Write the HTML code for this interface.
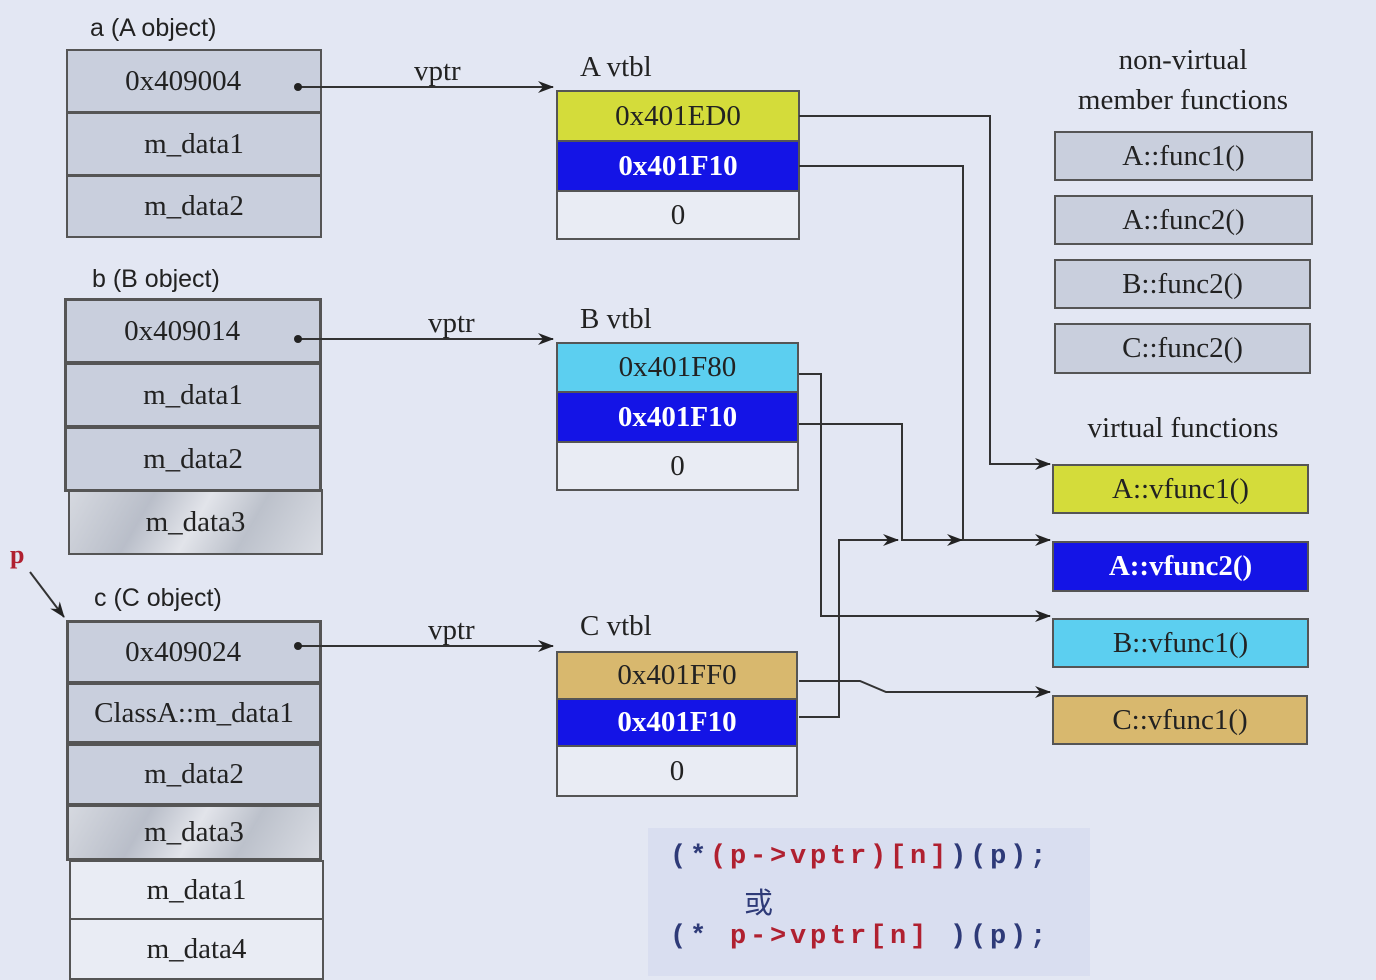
<!DOCTYPE html>
<html><head><meta charset="utf-8"><style>
body{margin:0;width:1376px;height:976px;background:#e3e7f3;position:relative;overflow:hidden;font-family:"Liberation Serif",serif;}
.a{position:absolute;}
.l{position:absolute;font-family:"Liberation Sans",sans-serif;font-size:25px;color:#222;}
.t{position:absolute;font-size:29px;color:#222;}
.r{position:absolute;box-sizing:border-box;border:2px solid #555;display:flex;align-items:center;justify-content:center;font-size:29px;color:#222;background:#c9cfdd;}
.w{background:#e9ecf4}
.y{background:#d4dc3a}
.b{background:#1414e6;color:#fff;font-weight:bold}
.c{background:#5ccff0}
.n{background:#d8b86e}
.m{background:linear-gradient(120deg,#d6d9e0,#b9bec9 30%,#e2e4ea 50%,#bcc1cb 70%,#d9dce3)}
.code{position:absolute;left:648px;top:828px;width:442px;height:148px;background:#d9def0;font-family:"Liberation Mono",monospace;font-weight:bold;font-size:27px;letter-spacing:3.8px;color:#2e3a78;}
.code div{position:absolute;white-space:pre}
.red{color:#b02030}
</style></head><body>
<div class="l" style="left:90px;top:14px">a (A object)</div>
<div class="r" style="left:66px;top:49px;width:256px;height:64px">0x409004&nbsp;&nbsp;&nbsp;</div>
<div class="r" style="left:66px;top:112px;width:256px;height:64px">m_data1</div>
<div class="r" style="left:66px;top:175px;width:256px;height:63px">m_data2</div>

<div class="l" style="left:92px;top:265px">b (B object)</div>
<div class="r m" style="left:68px;top:489px;width:255px;height:66px">m_data3</div>
<div class="r" style="left:64px;top:298px;width:258px;height:66px;border-width:3px">0x409014&nbsp;&nbsp;&nbsp;</div>
<div class="r" style="left:64px;top:362px;width:258px;height:66px;border-width:3px">m_data1</div>
<div class="r" style="left:64px;top:426px;width:258px;height:66px;border-width:3px">m_data2</div>

<div class="l" style="left:10px;top:540px;color:#b02030;font-family:'Liberation Serif',serif;font-weight:bold;font-size:26px">p</div>
<div class="l" style="left:94px;top:584px">c (C object)</div>
<div class="r" style="left:66px;top:620px;width:256px;height:64px;border-width:3px">0x409024&nbsp;&nbsp;&nbsp;</div>
<div class="r" style="left:66px;top:682px;width:256px;height:62px;border-width:3px">ClassA::m_data1</div>
<div class="r" style="left:66px;top:743px;width:256px;height:63px;border-width:3px">m_data2</div>
<div class="r m" style="left:66px;top:804px;width:256px;height:57px;border-width:3px">m_data3</div>
<div class="r w" style="left:69px;top:860px;width:255px;height:60px">m_data1</div>
<div class="r w" style="left:69px;top:918px;width:255px;height:62px">m_data4</div>

<div class="t" style="left:414px;top:55px">vptr</div>
<div class="t" style="left:428px;top:307px">vptr</div>
<div class="t" style="left:428px;top:614px">vptr</div>

<div class="t" style="left:580px;top:51px">A vtbl</div>
<div class="r y" style="left:556px;top:90px;width:244px;height:52px">0x401ED0</div>
<div class="r b" style="left:556px;top:140px;width:244px;height:52px">0x401F10</div>
<div class="r w" style="left:556px;top:190px;width:244px;height:50px">0</div>

<div class="t" style="left:580px;top:303px">B vtbl</div>
<div class="r c" style="left:556px;top:342px;width:243px;height:51px">0x401F80</div>
<div class="r b" style="left:556px;top:391px;width:243px;height:52px">0x401F10</div>
<div class="r w" style="left:556px;top:441px;width:243px;height:50px">0</div>

<div class="t" style="left:580px;top:610px">C vtbl</div>
<div class="r n" style="left:556px;top:651px;width:242px;height:49px">0x401FF0</div>
<div class="r b" style="left:556px;top:698px;width:242px;height:49px">0x401F10</div>
<div class="r w" style="left:556px;top:745px;width:242px;height:52px">0</div>

<div class="t" style="left:1040px;top:40px;width:286px;text-align:center;line-height:40px">non-virtual<br>member functions</div>
<div class="r" style="left:1054px;top:131px;width:259px;height:50px">A::func1()</div>
<div class="r" style="left:1054px;top:195px;width:259px;height:50px">A::func2()</div>
<div class="r" style="left:1054px;top:259px;width:257px;height:50px">B::func2()</div>
<div class="r" style="left:1054px;top:323px;width:257px;height:51px">C::func2()</div>
<div class="t" style="left:1040px;top:412px;width:286px;text-align:center">virtual functions</div>
<div class="r y" style="left:1052px;top:464px;width:257px;height:50px">A::vfunc1()</div>
<div class="r b" style="left:1052px;top:541px;width:257px;height:51px">A::vfunc2()</div>
<div class="r c" style="left:1052px;top:618px;width:257px;height:50px">B::vfunc1()</div>
<div class="r n" style="left:1052px;top:695px;width:256px;height:50px">C::vfunc1()</div>

<svg class="a" style="left:0;top:0" width="1376" height="976">
<defs><marker id="ar" markerWidth="16" markerHeight="12" refX="15" refY="6" orient="auto" markerUnits="userSpaceOnUse"><path d="M0,0 L16,6 L0,12 L5,6 z" fill="#222"/></marker></defs>
<g stroke="#333" stroke-width="2" fill="none">
<line x1="298" y1="87" x2="553" y2="87" marker-end="url(#ar)"/>
<line x1="298" y1="339" x2="553" y2="339" marker-end="url(#ar)"/>
<line x1="298" y1="646" x2="553" y2="646" marker-end="url(#ar)"/>
<line x1="30" y1="572" x2="64" y2="617" marker-end="url(#ar)"/>
<polyline points="799,116 990,116 990,464 1050,464" marker-end="url(#ar)"/>
<polyline points="799,166 963,166 963,540 1050,540" marker-end="url(#ar)"/>
<polyline points="799,374 821,374 821,616 1050,616" marker-end="url(#ar)"/>
<polyline points="799,424 902,424 902,540 962,540" marker-end="url(#ar)"/>
<polyline points="799,717 839,717 839,540 898,540" marker-end="url(#ar)"/>
<polyline points="799,681 860,681 886,692 1050,692" marker-end="url(#ar)"/>
</g>
<g fill="#222"><circle cx="298" cy="87" r="4"/><circle cx="298" cy="339" r="4"/><circle cx="298" cy="646" r="4"/></g>
</svg>

<div class="code">
<div style="left:22px;top:14px">(*<span class="red">(p-&gt;vptr)[n]</span>)(p);</div>
<div style="left:96px;top:52px;font-family:'Noto Sans CJK SC',sans-serif;font-weight:normal;font-size:29px;letter-spacing:0">或</div>
<div style="left:22px;top:94px">(* <span class="red">p-&gt;vptr[n]</span> )(p);</div>
</div>
</body></html>
